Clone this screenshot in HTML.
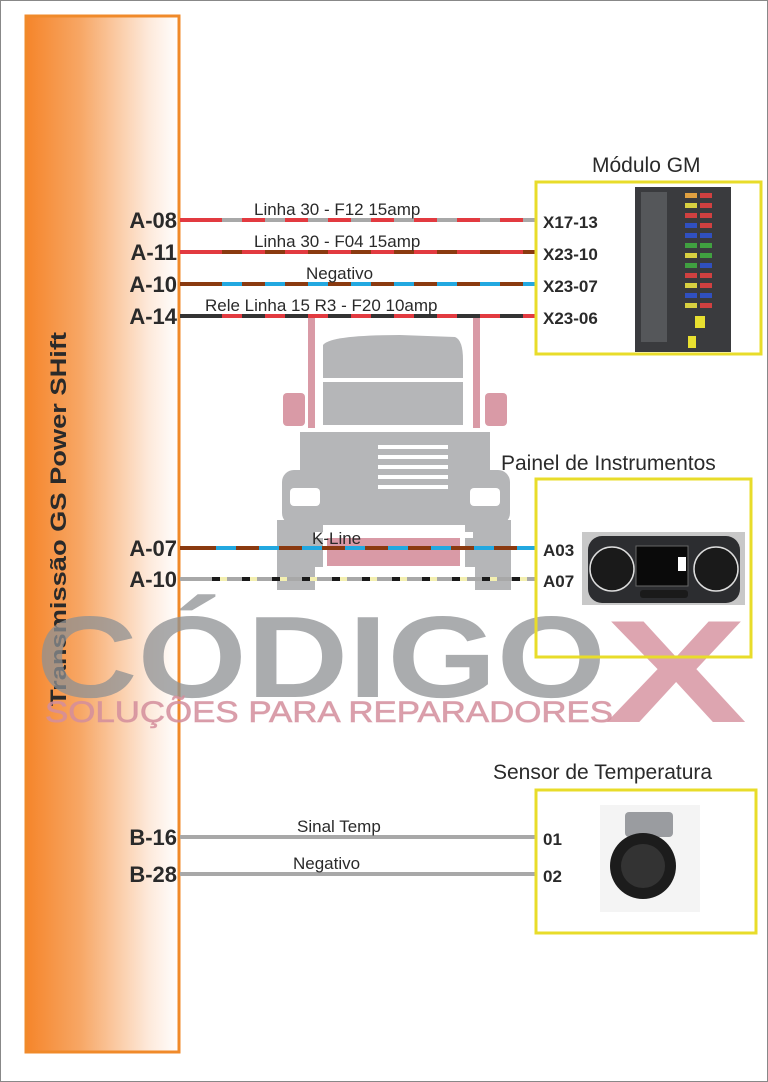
<!DOCTYPE html>
<html><head><meta charset="utf-8"><style>
html,body{margin:0;padding:0;background:#fff}
svg{display:block}
text{font-family:"Liberation Sans",Arial,sans-serif}
</style></head><body>
<svg width="768" height="1082" viewBox="0 0 768 1082" xmlns="http://www.w3.org/2000/svg">
<defs>
<linearGradient id="og" x1="0" y1="0" x2="1" y2="0">
<stop offset="0" stop-color="#f5852a"/><stop offset="0.35" stop-color="#f7a664"/><stop offset="0.8" stop-color="#fde9da"/><stop offset="1" stop-color="#ffffff"/>
</linearGradient>
</defs>
<rect x="0.5" y="0.5" width="767" height="1081" fill="#fff" stroke="#888" stroke-width="1"/>
<rect x="26" y="16" width="153" height="1036" fill="url(#og)" stroke="#f08a2a" stroke-width="3"/>
<text transform="translate(66,706) rotate(-90)" font-size="22" font-weight="bold" fill="#2a2a2a" textLength="374" lengthAdjust="spacingAndGlyphs">Transmissão GS Power SHift</text>

<!-- truck watermark -->
<g fill="#b5b6b8">
<path d="M323 345 Q330 335 400 335 L455 337 Q463 340 463 360 L463 425 L323 425 Z"/>
<rect x="300" y="432" width="190" height="40"/>
<rect x="282" y="470" width="228" height="55" rx="12"/>
<rect x="277" y="520" width="46" height="70"/>
<rect x="465" y="520" width="46" height="70"/>
</g>
<g fill="#fff">
<rect x="290" y="488" width="30" height="18" rx="4"/>
<rect x="470" y="488" width="30" height="18" rx="4"/>
<rect x="378" y="445" width="70" height="4"/><rect x="378" y="455" width="70" height="4"/><rect x="378" y="465" width="70" height="4"/><rect x="378" y="475" width="70" height="4"/><rect x="378" y="485" width="70" height="4"/>
<rect x="323" y="378" width="140" height="4"/>
<rect x="315" y="532" width="158" height="6"/>
<rect x="315" y="567" width="160" height="25"/>
</g>
<g fill="#d99aa6">
<rect x="327" y="538" width="133" height="28"/>
<rect x="308" y="318" width="7" height="110"/>
<rect x="473" y="318" width="7" height="110"/>
<rect x="283" y="393" width="22" height="33" rx="4"/>
<rect x="485" y="393" width="22" height="33" rx="4"/>
</g>

<!-- CODIGO X watermark -->
<text x="36" y="697" font-size="116" font-weight="bold" fill="#8e9093" fill-opacity="0.75" textLength="570" lengthAdjust="spacingAndGlyphs">CÓDIGO</text>
<text x="605" y="722" font-size="146" font-weight="bold" fill="#d48e9c" fill-opacity="0.8" textLength="142" lengthAdjust="spacingAndGlyphs">X</text>
<text x="45" y="722" font-size="30" fill="#d48e9c" fill-opacity="0.85" stroke="#d48e9c" stroke-opacity="0.6" stroke-width="0.8" textLength="568" lengthAdjust="spacingAndGlyphs">SOLUÇÕES PARA REPARADORES</text>

<!-- wires -->
<g stroke-width="4">
<line x1="180" y1="220" x2="535" y2="220" stroke="#e23a40"/>
<line x1="222" y1="220" x2="535" y2="220" stroke="#a8a8a8" stroke-dasharray="20 23"/>
<line x1="180" y1="252" x2="535" y2="252" stroke="#e23a40"/>
<line x1="222" y1="252" x2="535" y2="252" stroke="#8a3a10" stroke-dasharray="20 23"/>
<line x1="180" y1="284" x2="535" y2="284" stroke="#8a3a10"/>
<line x1="222" y1="284" x2="535" y2="284" stroke="#22a8e0" stroke-dasharray="20 23"/>
<line x1="180" y1="316" x2="535" y2="316" stroke="#333"/>
<line x1="222" y1="316" x2="535" y2="316" stroke="#e23a40" stroke-dasharray="20 23"/>
<line x1="180" y1="548" x2="535" y2="548" stroke="#8a3a10"/>
<line x1="216" y1="548" x2="535" y2="548" stroke="#22a8e0" stroke-dasharray="20 23"/>
<line x1="180" y1="579" x2="535" y2="579" stroke="#a8a8a8"/>
<line x1="212" y1="579" x2="535" y2="579" stroke="#1a1a1a" stroke-dasharray="8 22"/>
<line x1="220" y1="579" x2="535" y2="579" stroke="#f3efb0" stroke-dasharray="7 23"/>
<line x1="180" y1="837" x2="535" y2="837" stroke="#a8a8a8"/>
<line x1="180" y1="874" x2="535" y2="874" stroke="#a8a8a8"/>
</g>
<g font-size="17" fill="#2a2a2a">
<text x="254" y="215">Linha 30 - F12 15amp</text>
<text x="254" y="247">Linha 30 - F04 15amp</text>
<text x="306" y="279">Negativo</text>
<text x="205" y="311">Rele Linha 15 R3 - F20 10amp</text>
<text x="312" y="544">K-Line</text>
<text x="297" y="832">Sinal Temp</text>
<text x="293" y="869">Negativo</text>
</g>
<g font-size="22" font-weight="bold" fill="#2a2a2a" text-anchor="end">
<text x="177" y="228">A-08</text>
<text x="177" y="260">A-11</text>
<text x="177" y="292">A-10</text>
<text x="177" y="324">A-14</text>
<text x="177" y="556">A-07</text>
<text x="177" y="587">A-10</text>
<text x="177" y="845">B-16</text>
<text x="177" y="882">B-28</text>
</g>

<g fill="none" stroke="#e8dc2a" stroke-width="3">
<rect x="536" y="182" width="225" height="172"/>
<rect x="536" y="479" width="215" height="178"/>
<rect x="536" y="790" width="220" height="143"/>
</g>
<g font-size="21" fill="#2a2a2a">
<text x="592" y="172">Módulo GM</text>
<text x="501" y="470">Painel de Instrumentos</text>
<text x="493" y="779">Sensor de Temperatura</text>
</g>
<g font-size="17" font-weight="bold" fill="#2a2a2a">
<text x="543" y="228">X17-13</text>
<text x="543" y="260">X23-10</text>
<text x="543" y="292">X23-07</text>
<text x="543" y="324">X23-06</text>
<text x="543" y="556">A03</text>
<text x="543" y="587">A07</text>
<text x="543" y="845">01</text>
<text x="543" y="882">02</text>
</g>

<rect x="635" y="187" width="96" height="165" fill="#3a3b3e"/>
<g fill="#55575a">
<rect x="641" y="192" width="26" height="150"/>
</g>
<g>
<rect x="685" y="193" width="12" height="5" fill="#e0a040"/><rect x="700" y="193" width="12" height="5" fill="#d04040"/>
<rect x="685" y="203" width="12" height="5" fill="#d8d040"/><rect x="700" y="203" width="12" height="5" fill="#d04040"/>
<rect x="685" y="213" width="12" height="5" fill="#d04040"/><rect x="700" y="213" width="12" height="5" fill="#d04040"/>
<rect x="685" y="223" width="12" height="5" fill="#3050c0"/><rect x="700" y="223" width="12" height="5" fill="#d04040"/>
<rect x="685" y="233" width="12" height="5" fill="#3050c0"/><rect x="700" y="233" width="12" height="5" fill="#3050c0"/>
<rect x="685" y="243" width="12" height="5" fill="#40a040"/><rect x="700" y="243" width="12" height="5" fill="#40a040"/>
<rect x="685" y="253" width="12" height="5" fill="#d8d040"/><rect x="700" y="253" width="12" height="5" fill="#40a040"/>
<rect x="685" y="263" width="12" height="5" fill="#40a040"/><rect x="700" y="263" width="12" height="5" fill="#3050c0"/>
<rect x="685" y="273" width="12" height="5" fill="#d04040"/><rect x="700" y="273" width="12" height="5" fill="#d04040"/>
<rect x="685" y="283" width="12" height="5" fill="#d8d040"/><rect x="700" y="283" width="12" height="5" fill="#d04040"/>
<rect x="685" y="293" width="12" height="5" fill="#3050c0"/><rect x="700" y="293" width="12" height="5" fill="#3050c0"/>
<rect x="685" y="303" width="12" height="5" fill="#d8d040"/><rect x="700" y="303" width="12" height="5" fill="#d04040"/>
<rect x="695" y="316" width="10" height="12" fill="#e8e030"/>
<rect x="688" y="336" width="8" height="12" fill="#e8e030"/>
</g>

<rect x="582" y="532" width="163" height="73" fill="#c8c8c8"/>
<rect x="588" y="536" width="152" height="67" rx="14" fill="#2c2d30"/>
<circle cx="612" cy="569" r="22" fill="#1a1a1a" stroke="#ddd" stroke-width="1.5"/>
<circle cx="716" cy="569" r="22" fill="#1a1a1a" stroke="#ddd" stroke-width="1.5"/>
<rect x="636" y="546" width="52" height="40" fill="#0a0a0a" stroke="#666"/>
<rect x="678" y="557" width="8" height="14" fill="#fff"/>
<rect x="640" y="590" width="48" height="8" rx="3" fill="#1a1a1a"/>

<rect x="600" y="805" width="100" height="107" fill="#f4f4f4"/>
<rect x="625" y="812" width="48" height="25" rx="4" fill="#9a9ca0"/>
<circle cx="643" cy="866" r="33" fill="#1c1c1c"/>
<circle cx="643" cy="866" r="22" fill="#333"/>
</svg>
</body></html>
